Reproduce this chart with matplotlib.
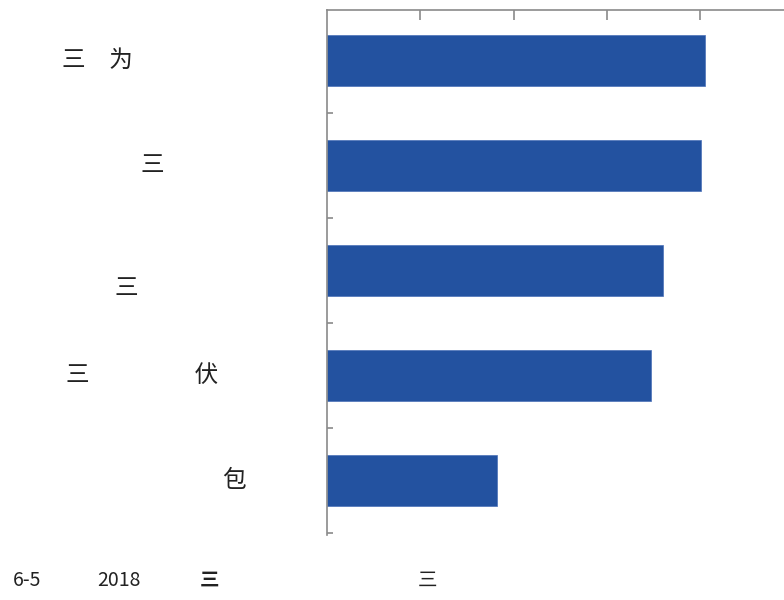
import matplotlib
matplotlib.use('Agg')
import matplotlib.pyplot as plt

plt.rcParams['font.family'] = ['Noto Sans CJK SC', 'DejaVu Sans']

# data (one top tick = 1 unit)
labels = ['三　为', '三', '三', '三　　　　  伏', '包']
values = [4.05, 4.01, 3.60, 3.47, 1.82]
footer = ['6-5', '2018', '三', '三']

# label layout (left edge in pixels, vertical shift in category units)
label_px = [62, 141, 115, 66, 222]
label_dy = [0.0, 0.0, 0.17, 0.0, 0.0]
footer_px = [13, 97, 200, 418]

W, H = 784, 600
fig = plt.figure(figsize=(W / 100, H / 100), dpi=100)
ax = fig.add_axes([327 / W, 1 - 535 / H, 457 / W, 525 / H])

y = list(range(len(values)))
ax.barh(y, values, height=0.49, color='#2352A0', edgecolor='#4a70b8', linewidth=0.5)

ax.set_xlim(0, 4.9)
ax.set_ylim(len(values) - 0.48, -0.48)

grey = '#8a8a8a'
for side in ['right', 'bottom']:
    ax.spines[side].set_visible(False)
for side in ['top', 'left']:
    ax.spines[side].set_color(grey)
    ax.spines[side].set_linewidth(1.2)

ax.xaxis.tick_top()
ax.set_xticks([1, 2, 3, 4])
ax.set_xticklabels([])
ax.tick_params(axis='x', direction='in', length=7, width=1.2, color=grey)

ax.set_yticks([i + 0.5 for i in range(len(values))])
ax.set_yticklabels([])
ax.tick_params(axis='y', direction='in', length=4, width=1.2, color=grey)

tr = ax.get_yaxis_transform()
for i, lab in enumerate(labels):
    ax.text((label_px[i] - 327) / 457, i + label_dy[i], lab, transform=tr,
            ha='left', va='center', fontsize=17, color='#222222', clip_on=False)

for i, txt in enumerate(footer):
    bold = 'bold' if i == 2 else 'normal'
    fig.text(footer_px[i] / W, 1 - 580 / H, txt, ha='left', va='center',
             fontsize=14, fontweight=bold, color='#222222')

fig.savefig('out.png', dpi=100)
